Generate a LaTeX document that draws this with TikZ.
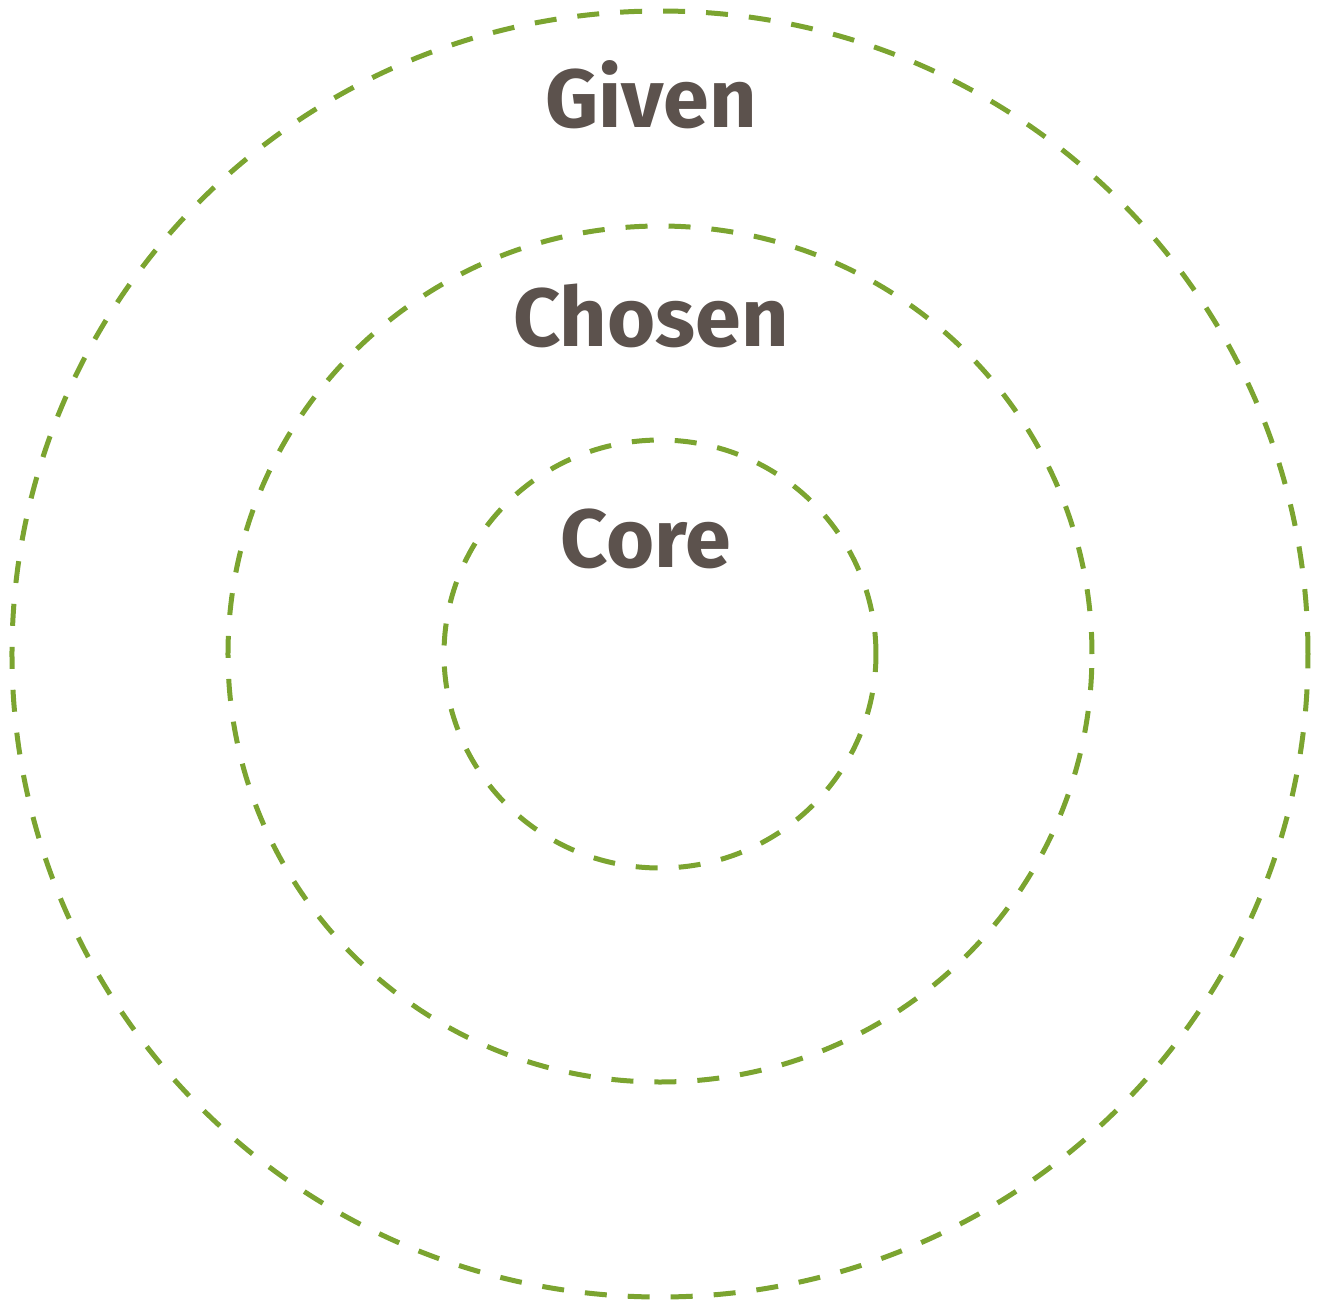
\documentclass[tikz,border=0pt]{standalone}
\usepackage{fontspec}
\usetikzlibrary{shapes.geometric}
\setmainfont{Fira Sans}
\definecolor{ringgreen}{RGB}{123,164,48}
\definecolor{labelgray}{RGB}{92,82,77}
\tikzset{
  ring/.style={ellipse,draw=ringgreen,line width=0.1cm,dash pattern=on 0.44cm off 0.42cm,inner sep=0pt},
  ringlabel/.style={anchor=base,text=labelgray,font=\fontsize{47}{50}\selectfont\bfseries}
}
\begin{document}
\begin{tikzpicture}
\useasboundingbox (-13.2,-13.0) rectangle (13.2,13.08);
\node[ring,minimum width=25.92cm,minimum height=25.72cm] (given) at (0,0) {};
\node[ring,minimum width=17.28cm,minimum height=17.12cm] (chosen) at (0,0) {};
\node[ring,minimum width=8.64cm,minimum height=8.56cm] (core) at (0,0) {};
\node[ringlabel] (givenlabel) at (-0.18,10.54) {Given};
\node[ringlabel] (chosenlabel) at (-0.18,6.16) {Chosen};
\node[ringlabel] (corelabel) at (-0.28,1.74) {Core};
\end{tikzpicture}
\end{document}
